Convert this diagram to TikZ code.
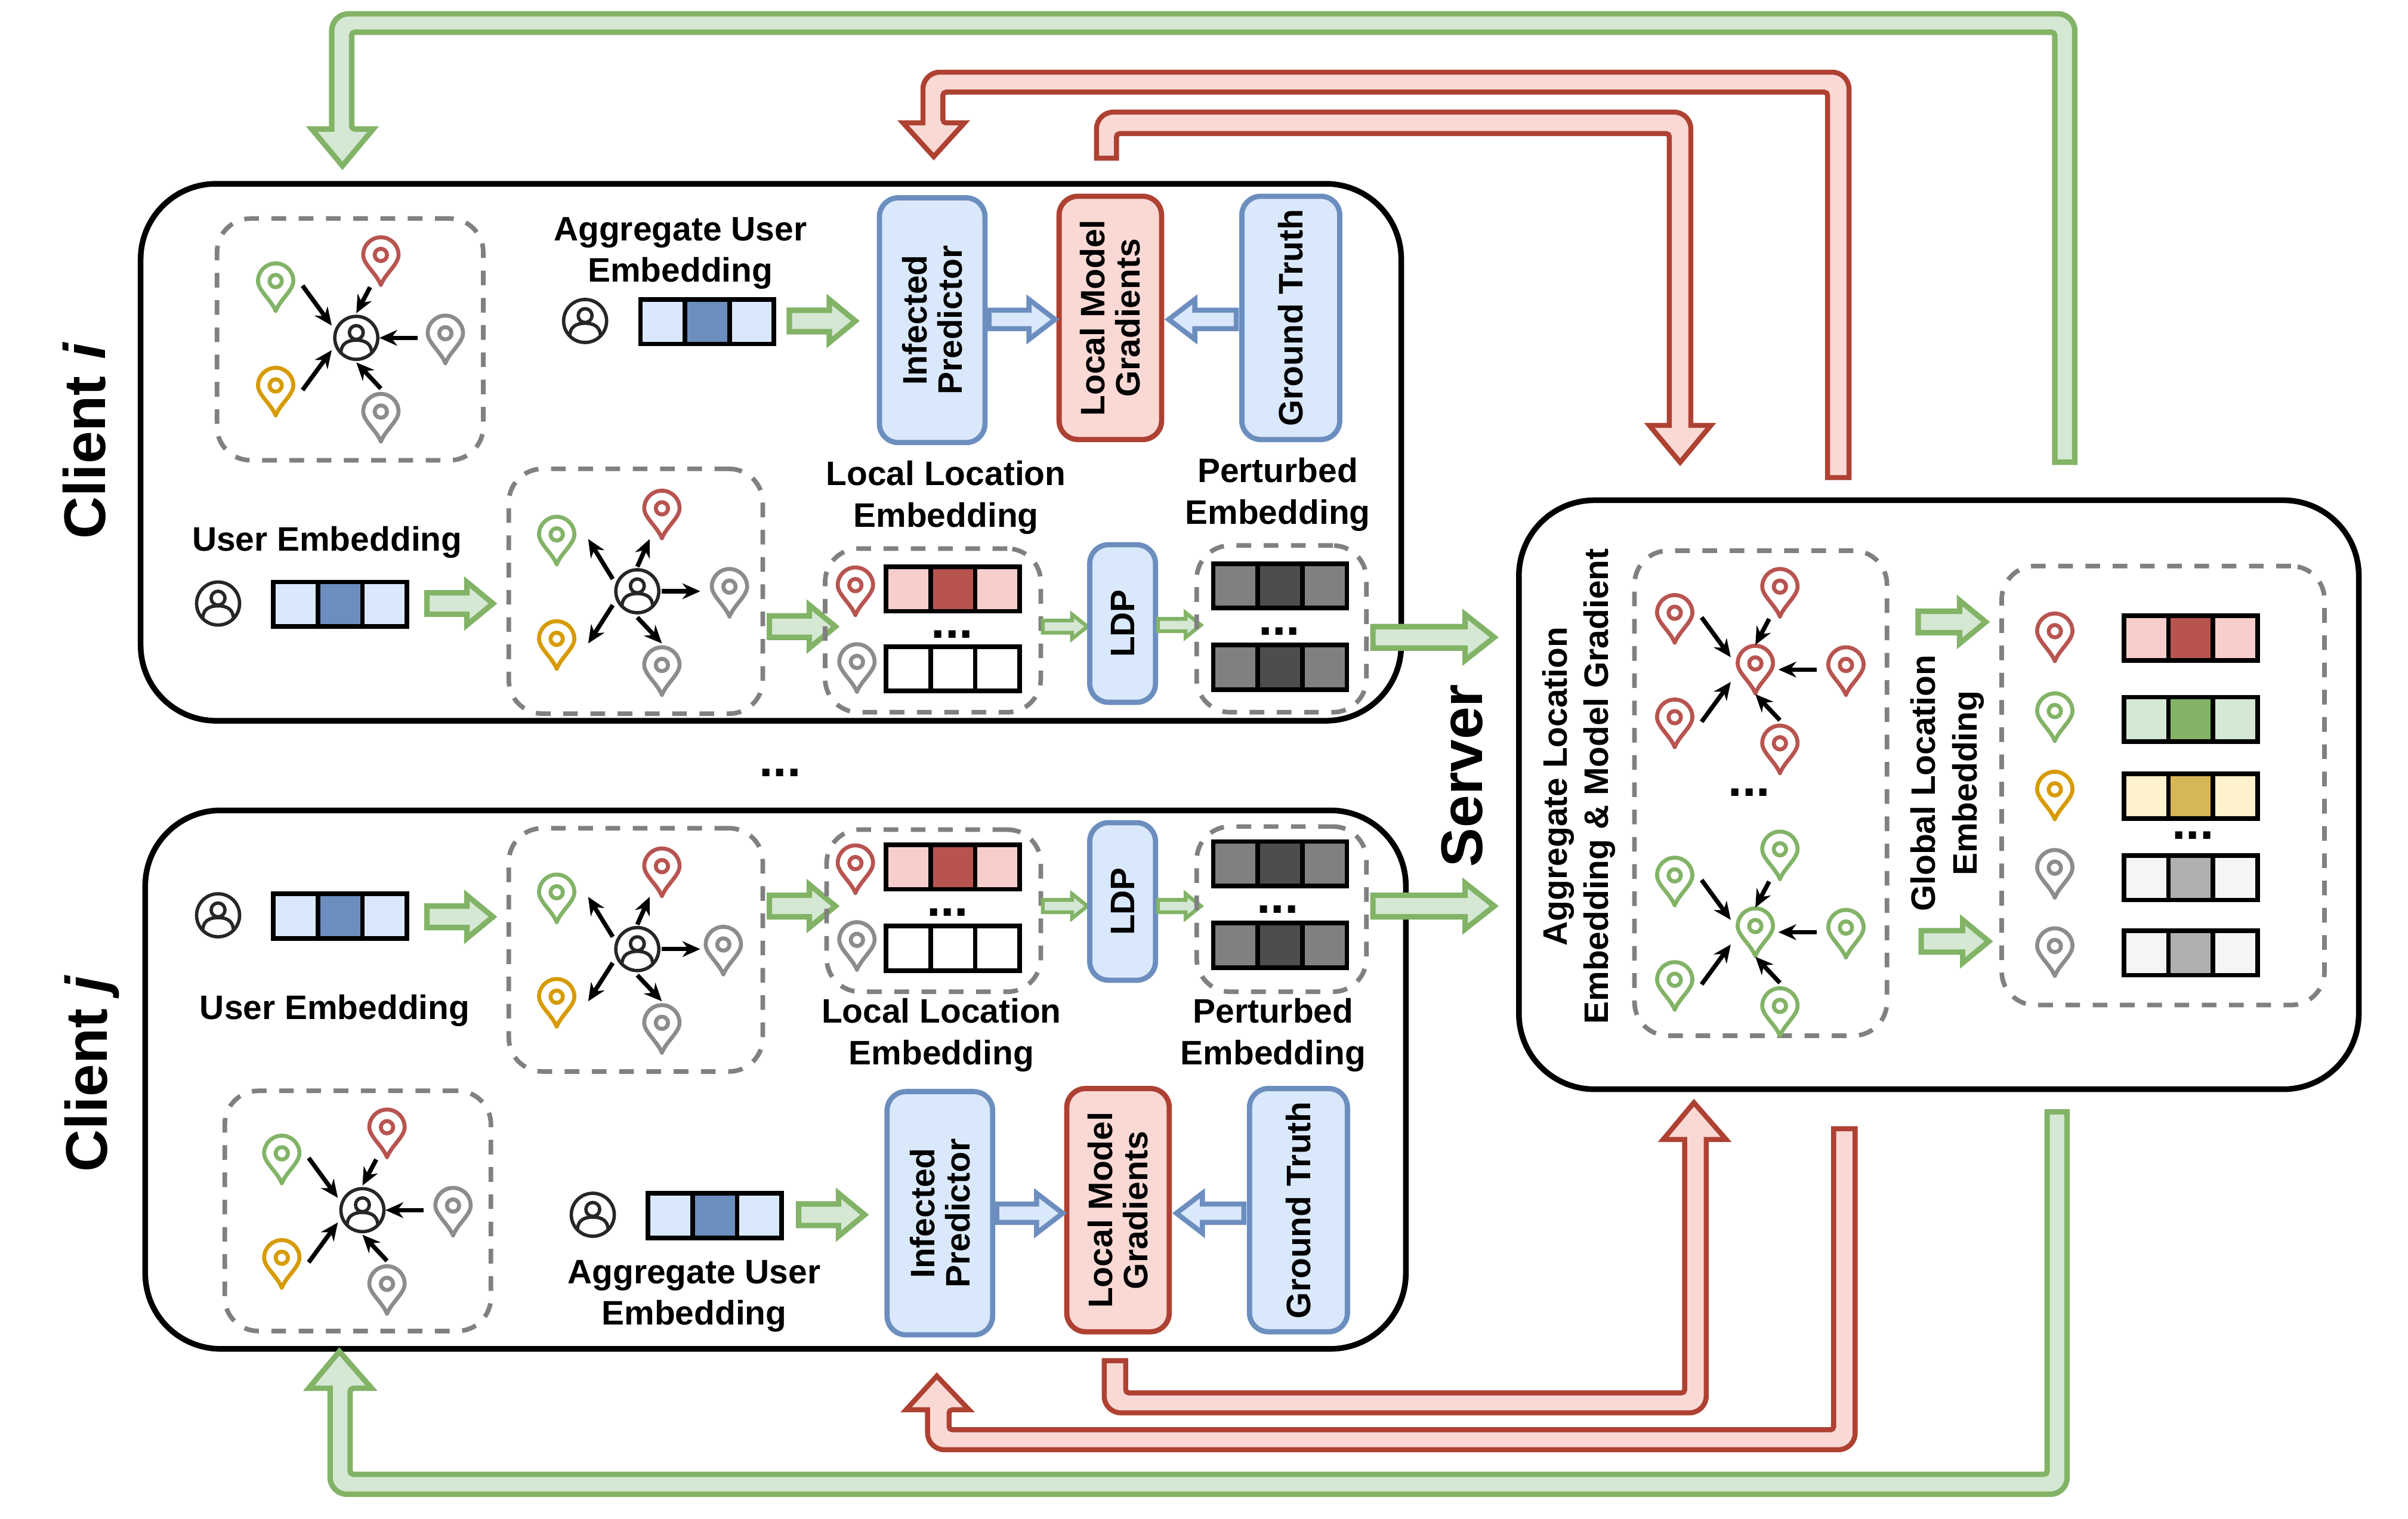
\documentclass[tikz,border=0pt]{standalone}
\usepackage{fontspec}
\setmainfont{Liberation Sans}
\usepackage{xcolor}
\definecolor{greenfill}{HTML}{D5E8D4}
\definecolor{greenline}{HTML}{82B366}
\definecolor{redfill}{HTML}{FAD9D5}
\definecolor{redline}{HTML}{AE4132}
\definecolor{bluefill}{HTML}{DAE8FC}
\definecolor{blueline}{HTML}{6C8EBF}
\definecolor{pinred}{HTML}{B85450}
\definecolor{pingreen}{HTML}{82B366}
\definecolor{pinyellow}{HTML}{D79B00}
\definecolor{pingray}{HTML}{8C8C8C}
\definecolor{cellred}{HTML}{F8CECC}
\definecolor{cellyellow}{HTML}{FFF2CC}
\definecolor{cellyellowd}{HTML}{D6B656}
\definecolor{cellgray}{HTML}{F5F5F5}
\definecolor{cellgrayd}{HTML}{B0B0B0}
\definecolor{celldark}{HTML}{808080}
\definecolor{celldarker}{HTML}{4D4D4D}
\definecolor{dashgray}{HTML}{808080}
\usetikzlibrary{arrows.meta}
\def\un{0.7296pt}
\newcommand{\lab}{\fontsize{16.2}{19.7}\selectfont\bfseries}
\newcommand{\boxlab}{\fontsize{16.2}{16.8}\selectfont\bfseries}
% three cells of one embedding
\newcommand{\embrow}[4]{
  \draw[cell,fill=#3] (#1,#2) rectangle ++(29,29);
  \draw[cell,fill=#4] (#1+29,#2) rectangle ++(29,29);
  \draw[cell,fill=#3] (#1+58,#2) rectangle ++(29,29);
}
% straight block arrow
\newcommand{\blockarrow}[7]{
  \draw[#1] (#2,#4-#5) -- ({#3-(#7)},#4-#5) -- ({#3-(#7)},#4-#6) -- (#3,#4) -- ({#3-(#7)},#4+#6) -- ({#3-(#7)},#4+#5) -- (#2,#4+#5) -- cycle;
}
% five pins round a centre
\newcommand{\pinring}[7]{
  \foreach \px/\py/\pc in {-52.5/-33/#2,16/-50/#3,#7/1/#4,-52.5/35/#5,16/52/#6}
    \pic at ([shift={(\px,\py)}]#1) {locpin=\pc};
}
\newcommand{\spokesin}[1]{
  \foreach \i/\sx/\sy/\ex/\ey in {1/-35/-34/-16/-8,2/9/-33/0/-16,3/40/0/15/0,4/16/33/0/16,5/-35/34/-16/8}{
    \coordinate (s\i) at ([shift={(\sx,\sy)}]#1);
    \coordinate (e\i) at ([shift={(\ex,\ey)}]#1);
    \draw[spoke] (s\i) -- (e\i);
  }
}
\newcommand{\spokesout}[1]{
  \foreach \i/\sx/\sy/\ex/\ey in {1/-16/-8/-32/-34,2/0/-16/8/-34,3/16/0/41/0,4/0/17/16/34,5/-16/9/-32/34}{
    \coordinate (s\i) at ([shift={(\sx,\sy)}]#1);
    \coordinate (e\i) at ([shift={(\ex,\ey)}]#1);
    \draw[spoke] (s\i) -- (e\i);
  }
}
\tikzset{
  pics/locpin/.style={code={
    \draw[line width=1.9pt,draw=#1,fill=white,line join=round] (0,15.5) .. controls (-3,8) and (-11.5,2) .. (-11.5,-4) arc (180:360:11.5) .. controls (11.5,2) and (3,8) .. (0,15.5) -- cycle;
    \draw[line width=1.9pt,draw=#1] (0,-4) circle (4);
  }},
  pics/usermark/.style={code={
    \draw[line width=1.6pt,draw=black!85,fill=white] (0,0) circle (14);
    \draw[line width=1.6pt,draw=black!85] (0,-3.5) circle (4.5);
    \draw[line width=1.6pt,draw=black!85] (-10,10) .. controls (-10,4) and (-6,1.5) .. (0,1.5) .. controls (6,1.5) and (10,4) .. (10,10);
  }}
}
\begin{document}
\begin{tikzpicture}[x=0.02574cm,y=-0.02574cm,
  client/.style={draw=black,fill=white,rounded corners=36pt,line width=2.7pt},
  region/.style={draw=dashgray,rounded corners=16pt,line width=2.2pt,dash pattern=on 7pt off 6pt},
  bluebox/.style={draw=blueline,fill=bluefill,rounded corners=9pt,line width=2.5pt,align=center,font=\boxlab,rotate=90},
  redbox/.style={draw=redline,fill=redfill,rounded corners=9pt,line width=2.5pt,align=center,font=\boxlab,rotate=90},
  txt/.style={align=center,font=\lab},
  dots/.style={font=\fontsize{24}{24}\selectfont\bfseries,inner sep=0pt},
  title/.style={font=\fontsize{28}{28}\selectfont\bfseries,rotate=90,inner sep=0pt},
  cell/.style={draw=black,line width=2.2pt},
  spoke/.style={-{Stealth[length=8.5pt,width=7.5pt]},line width=2.1pt,color=black},
  gblock/.style={draw=greenline,fill=greenfill,line width=2.6pt},
  gthin/.style={draw=greenline,fill=greenfill,line width=1.8pt},
  bblock/.style={draw=blueline,fill=bluefill,line width=2.4pt},
  rblock/.style={draw=redline,fill=redfill,line width=2.4pt,line join=miter}]
\useasboundingbox (0,0) rectangle (1568,989.1);
% outer boxes
\node[client,minimum width=824*\un,minimum height=351*\un] (ci) at (502,294.5) {};
\node[client,minimum width=824*\un,minimum height=352*\un] (cj) at (505,703) {};
\node[client,minimum width=549*\un,minimum height=385*\un] (srv) at (1262.5,517.5) {};
\node[title] (cilab) at (55,287) {Client \textit{i}};
\node[title] (cjlab) at (60,699) {Client \textit{j}};
\node[title] (srvlab) at (952,505) {Server};
\node[dots] (between) at (508,503) {...};
% client i
\node[region,minimum width=174*\un,minimum height=158*\un] (r1) at (228,221) {};
\coordinate (ui) at (232,220);
\pinring{ui}{pingreen}{pinred}{pingray}{pinyellow}{pingray}{58}
\pic at (ui) {usermark};
\spokesin{ui}
\node[txt] (aggi) at (443,165) {Aggregate User\\Embedding};
\coordinate (aui) at (381,209);
\pic at (aui) {usermark};
\embrow{417}{195}{bluefill}{blueline}
\blockarrow{gblock}{514}{557}{209}{7}{14}{17}
\node[bluebox,minimum width=160*\un,minimum height=69*\un] (ipi) at (607,208.5) {Infected\\Predictor};
\node[redbox,minimum width=159*\un,minimum height=67*\un] (lgi) at (723,207) {Local Model\\Gradients};
\node[bluebox,minimum width=159*\un,minimum height=64*\un] (gti) at (840.5,207) {Ground Truth};
\blockarrow{bblock}{644}{687}{208}{6}{13}{17}
\blockarrow{bblock}{805}{761}{208}{6}{13}{-17}
\node[txt] (uei) at (213,353) {User Embedding};
\coordinate (eui) at (142,393);
\pic at (eui) {usermark};
\embrow{178}{379}{bluefill}{blueline}
\blockarrow{gblock}{278}{321}{393}{7}{14}{17}
\node[region,minimum width=166*\un,minimum height=160*\un] (r2) at (414,385) {};
\coordinate (usi) at (415,385);
\pinring{usi}{pingreen}{pinred}{pingray}{pinyellow}{pingray}{60}
\pic at (usi) {usermark};
\spokesout{usi}
\blockarrow{gblock}{501}{544}{408}{7}{14}{17}
\node[txt] (lli) at (616,324) {Local Location\\Embedding};
\node[region,minimum width=141*\un,minimum height=107*\un] (r3) at (607.5,410.5) {};
\coordinate (pa) at (557,385);
\pic at (pa) {locpin=pinred};
\embrow{577}{369}{cellred}{pinred}
\node[dots] (d1) at (620,413) {...};
\coordinate (pb) at (558,435);
\pic at (pb) {locpin=pingray};
\embrow{577}{421}{white}{white}
\blockarrow{gthin}{679}{708}{408}{4}{8}{10}
\node[bluebox,minimum width=103*\un,minimum height=43*\un] (ldpi) at (731,406) {LDP};
\blockarrow{gthin}{754}{782}{407}{4}{8}{10}
\node[txt] (pei) at (832,322) {Perturbed\\Embedding};
\node[region,minimum width=111*\un,minimum height=109*\un] (r4) at (834.5,409.5) {};
\embrow{790}{367}{celldark}{celldarker}
\node[dots] (d2) at (833,411) {...};
\embrow{790}{420}{celldark}{celldarker}
% client j
\coordinate (euj) at (142,596);
\pic at (euj) {usermark};
\embrow{178}{582}{bluefill}{blueline}
\blockarrow{gblock}{278}{321}{597}{7}{14}{17}
\node[txt] (uej) at (218,658) {User Embedding};
\node[region,minimum width=166*\un,minimum height=159*\un] (r5) at (414,618.5) {};
\coordinate (usj) at (415,618);
\pinring{usj}{pingreen}{pinred}{pingray}{pinyellow}{pingray}{56}
\pic at (usj) {usermark};
\spokesout{usj}
\blockarrow{gblock}{501}{544}{590}{7}{14}{17}
\node[region,minimum width=140*\un,minimum height=106*\un] (r6) at (608,593) {};
\coordinate (pc) at (557,566);
\pic at (pc) {locpin=pinred};
\embrow{577}{550}{cellred}{pinred}
\node[dots] (d3) at (617,594) {...};
\coordinate (pd) at (558,616);
\pic at (pd) {locpin=pingray};
\embrow{577}{603}{white}{white}
\node[txt] (llj) at (613,674) {Local Location\\Embedding};
\blockarrow{gthin}{679}{708}{590}{4}{8}{10}
\node[bluebox,minimum width=103*\un,minimum height=43*\un] (ldpj) at (731,587) {LDP};
\blockarrow{gthin}{754}{782}{590}{4}{8}{10}
\node[region,minimum width=111*\un,minimum height=108*\un] (r7) at (834.5,592) {};
\embrow{790}{548}{celldark}{celldarker}
\node[dots] (d4) at (832,592) {...};
\embrow{790}{601}{celldark}{celldarker}
\node[txt] (pej) at (829,674) {Perturbed\\Embedding};
\node[region,minimum width=174*\un,minimum height=157*\un] (r8) at (233,788.5) {};
\coordinate (uj) at (236,788);
\pinring{uj}{pingreen}{pinred}{pingray}{pinyellow}{pingray}{59}
\pic at (uj) {usermark};
\spokesin{uj}
\coordinate (auj) at (386,791);
\pic at (auj) {usermark};
\embrow{422}{777}{bluefill}{blueline}
\blockarrow{gblock}{520}{563}{791}{7}{14}{17}
\node[txt] (aggj) at (452,844) {Aggregate User\\Embedding};
\node[bluebox,minimum width=159*\un,minimum height=69*\un] (ipj) at (612,790) {Infected\\Predictor};
\node[redbox,minimum width=159*\un,minimum height=67*\un] (lgj) at (728,788) {Local Model\\Gradients};
\node[bluebox,minimum width=159*\un,minimum height=64*\un] (gtj) at (845.5,788) {Ground Truth};
\blockarrow{bblock}{649}{692}{790}{6}{13}{17}
\blockarrow{bblock}{810}{766}{790}{6}{13}{-17}
% server
\node[txt,rotate=90] (aggs) at (1028,512) {Aggregate Location\\Embedding \& Model Gradient};
\node[region,minimum width=165*\un,minimum height=317*\un] (r9) at (1146.5,516.5) {};
\coordinate (sa) at (1143,436);
\pinring{sa}{pinred}{pinred}{pinred}{pinred}{pinred}{59}
\pic at (sa) {locpin=pinred};
\spokesin{sa}
\node[dots] (d5) at (1139,516) {...};
\coordinate (sb) at (1143,607);
\pinring{sb}{pingreen}{pingreen}{pingreen}{pingreen}{pingreen}{59}
\pic at (sb) {locpin=pingreen};
\spokesin{sb}
\blockarrow{gblock}{1249}{1293}{405}{7}{14}{17}
\blockarrow{gblock}{1251}{1295}{613}{7}{14}{17}
\node[txt,rotate=90] (gle) at (1268,510) {Global Location\\Embedding};
\node[region,minimum width=211*\un,minimum height=287*\un] (r10) at (1408.5,511.5) {};
\foreach \py/\pc in {415/pinred,467/pingreen,518/pinyellow,569/pingray,620/pingray}
  \pic at (1338,\py) {locpin=\pc};
\embrow{1383}{401}{cellred}{pinred}
\embrow{1383}{454}{greenfill}{pingreen}
\embrow{1383}{504}{cellyellow}{cellyellowd}
\node[dots] (d6) at (1428,544) {...};
\embrow{1383}{557}{cellgray}{cellgrayd}
\embrow{1383}{606}{cellgray}{cellgrayd}
% client to server
\blockarrow{gblock}{894}{973}{415}{7}{15}{19}
\blockarrow{gblock}{894}{973}{590}{7}{15}{19}
% long arrows
\draw[gblock] (1338,301) [rounded corners=1.5pt] -- (1338,21) -- (229,21) -- (229,84) [sharp corners] -- (243,84) -- (223,108) -- (203,84) -- (216,84) [rounded corners=8pt] -- (216,9) -- (1351,9) [sharp corners] -- (1351,301) -- cycle;
\draw[rblock] (1190,311) [rounded corners=1.5pt] -- (1190,60) -- (614,60) -- (614,80) [sharp corners] -- (628,80) -- (608,102) -- (588,80) -- (601,80) [rounded corners=8pt] -- (601,47) -- (1204,47) [sharp corners] -- (1204,311) -- cycle;
\draw[rblock] (714,103) [rounded corners=8pt] -- (714,73) -- (1101,73) [sharp corners] -- (1101,277) -- (1114,277) -- (1094,301) -- (1074,277) -- (1087,277) [rounded corners=1.5pt] -- (1087,87) -- (727,87) [sharp corners] -- (727,103) -- cycle;
\draw[gblock] (1333,724) [rounded corners=1.5pt] -- (1333,960) -- (228,960) -- (228,904) [sharp corners] -- (242,904) -- (221,880) -- (201,904) -- (215,904) [rounded corners=8pt] -- (215,973) -- (1346,973) [sharp corners] -- (1346,724) -- cycle;
\draw[rblock] (1194,735) [rounded corners=1.5pt] -- (1194,931) -- (618,931) -- (618,918) [sharp corners] -- (631,918) -- (610,896) -- (590,918) -- (604,918) [rounded corners=8pt] -- (604,944) -- (1208,944) [sharp corners] -- (1208,735) -- cycle;
\draw[rblock] (719,886) [rounded corners=8pt] -- (719,920) -- (1111,920) [sharp corners] -- (1111,742) -- (1124,742) -- (1103,718) -- (1083,742) -- (1097,742) [rounded corners=1.5pt] -- (1097,907) -- (733,907) [sharp corners] -- (733,886) -- cycle;
\end{tikzpicture}
\end{document}
